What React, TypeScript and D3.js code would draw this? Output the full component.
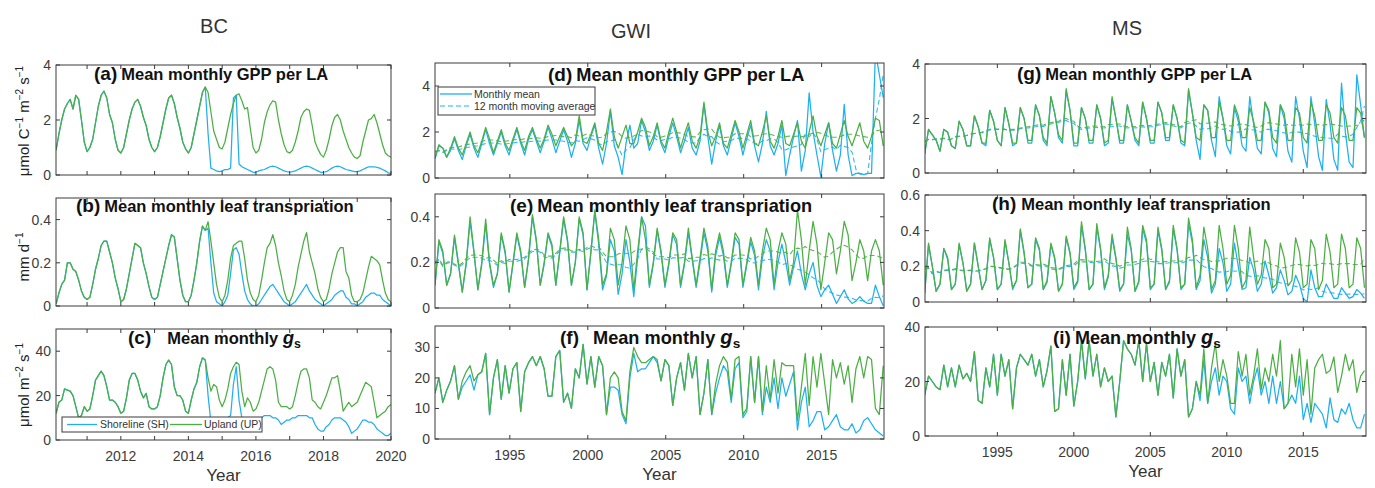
import React from 'react';
import * as d3 from 'd3';

// ---------------- DATA ----------------
// BC: monthly values, Feb 2010 .. Jan 2020 (120 months)
const bcGppUpland = [
  0.9,1.5,2.0,2.4,2.6,2.75,2.4,2.9,2.75,2.0,1.2,0.85,
  1.0,1.3,1.9,2.5,2.9,3.05,2.8,2.2,1.9,1.3,0.9,0.8,
  1.0,1.5,2.0,2.4,2.65,2.75,2.5,2.1,1.8,1.3,1.0,0.85,
  1.0,1.4,1.9,2.4,2.8,2.9,2.6,2.1,1.7,1.2,0.95,0.8,
  1.0,1.5,2.0,2.5,3.0,3.2,3.0,2.3,1.6,1.3,1.0,0.95,
  1.2,1.7,2.2,2.6,2.9,2.95,2.7,2.4,2.45,1.7,1.0,0.8,
  0.9,1.3,1.9,2.3,2.55,2.7,2.65,2.0,1.5,1.1,0.85,0.8,
  0.9,1.2,1.6,2.1,2.3,2.4,2.35,1.8,1.2,0.95,0.75,0.65,
  0.9,1.3,1.8,2.1,2.2,2.0,1.6,1.3,1.0,0.8,0.65,0.6,
  0.7,1.2,1.6,2.0,2.05,2.2,1.9,1.5,1.1,0.8,0.7,0.65];
const bcGppShore = [
  0.9,1.5,2.0,2.4,2.6,2.75,2.4,2.9,2.75,2.0,1.2,0.85,
  1.0,1.3,1.9,2.5,2.9,3.05,2.8,2.2,1.9,1.3,0.9,0.8,
  1.0,1.5,2.0,2.4,2.65,2.75,2.5,2.1,1.8,1.3,1.0,0.85,
  1.0,1.4,1.9,2.4,2.8,2.9,2.6,2.1,1.7,1.2,0.95,0.8,
  1.0,1.5,2.0,2.5,3.0,3.2,1.5,0.25,0.2,0.15,0.12,0.15,
  0.2,0.2,0.25,2.8,2.9,0.4,0.3,0.25,0.2,0.15,0.1,0.1,
  0.15,0.18,0.2,0.25,0.3,0.32,0.3,0.25,0.2,0.15,0.12,0.1,
  0.12,0.15,0.2,0.25,0.3,0.32,0.3,0.25,0.2,0.15,0.1,0.1,
  0.12,0.18,0.25,0.3,0.32,0.3,0.25,0.2,0.18,0.15,0.12,0.12,
  0.15,0.2,0.25,0.3,0.3,0.3,0.28,0.25,0.2,0.15,0.08,0.05];
const bcLeafUpland = [
  0.01,0.06,0.1,0.12,0.2,0.2,0.17,0.16,0.12,0.07,0.04,0.03,
  0.04,0.1,0.17,0.22,0.28,0.3,0.3,0.25,0.2,0.13,0.08,0.02,
  0.03,0.08,0.15,0.22,0.29,0.28,0.27,0.2,0.15,0.09,0.04,0.03,
  0.04,0.1,0.16,0.22,0.28,0.33,0.32,0.22,0.12,0.05,0.02,0.02,
  0.05,0.12,0.2,0.3,0.37,0.35,0.39,0.3,0.2,0.1,0.04,0.02,
  0.05,0.12,0.22,0.28,0.29,0.3,0.3,0.22,0.12,0.06,0.03,0.02,
  0.05,0.12,0.2,0.27,0.29,0.33,0.28,0.2,0.14,0.07,0.03,0.02,
  0.05,0.1,0.18,0.24,0.3,0.34,0.25,0.2,0.15,0.08,0.04,0.02,
  0.03,0.08,0.15,0.2,0.25,0.27,0.27,0.16,0.13,0.05,0.02,0.02,
  0.03,0.06,0.12,0.18,0.23,0.22,0.21,0.19,0.12,0.06,0.03,0.02];
const bcLeafShore = [
  0.01,0.06,0.1,0.12,0.2,0.2,0.17,0.16,0.12,0.07,0.04,0.03,
  0.04,0.1,0.17,0.22,0.28,0.3,0.3,0.25,0.2,0.13,0.08,0.02,
  0.03,0.08,0.15,0.22,0.29,0.28,0.27,0.2,0.15,0.09,0.04,0.03,
  0.04,0.1,0.16,0.22,0.28,0.33,0.32,0.22,0.12,0.05,0.02,0.02,
  0.05,0.12,0.2,0.3,0.37,0.35,0.36,0.2,0.06,0.02,0.01,0.0,
  0.02,0.05,0.15,0.26,0.27,0.24,0.15,0.07,0.03,0.01,0.0,0.0,
  0.01,0.03,0.05,0.07,0.09,0.1,0.08,0.06,0.04,0.02,0.01,0.0,
  0.01,0.02,0.04,0.06,0.08,0.1,0.07,0.05,0.03,0.02,0.01,0.0,
  0.01,0.02,0.03,0.05,0.06,0.07,0.07,0.04,0.03,0.01,0.01,0.0,
  0.01,0.02,0.04,0.05,0.06,0.06,0.05,0.05,0.03,0.02,0.01,0.0];
const bcGsUpland = [
  12,17,18,23,22.5,22,20,15,10,11,15,13,
  14,20,27,29,31,29,24,18,18,17,15,12,
  13,19,27,30,30,27,22,19,21,15,14,14,
  15,20,28,34,36,34,24,20,20,18,13,12,
  18,23,26,33,37,36,28,22,25,24,18,15,
  18,23,30,33,35,34,22,15,19,17,13,14,
  17,22,27,32,33,32,27,17,15,15,15,14,
  15,20,26,31,32,32,28,18,17,15,14,17,
  20,24,28,28,29,22,13,15,17,15,16,17,
  20,23,26,25,24,17,10,11,12,13,15,16];
const bcGsShore = [
  12,17,18,23,22.5,22,20,15,10,11,15,13,
  14,20,27,29,31,29,24,18,18,17,15,12,
  13,19,27,30,30,27,22,19,21,15,14,14,
  15,20,28,34,36,34,24,20,20,18,13,12,
  18,23,26,33,37,36,20,8,8,7,8,9,
  10,10,11,25,33,18,10,9,9,10,10,10,
  10,10,11,11,11,10,10,9,7,8,9,9,
  10,10,11,11,11,11,10,10,7,5,4,4,
  6,7,9,10,10,10,9,8,6,3,4,5,
  7,9,9,8,8,7,5,4,3,2,2,3];

// GWI: quarterly readings starting 1990.2 (116 values)
const gwiGppUpland = [
  0.85,1.45,1.3,0.9, 1.3,1.8,1.3,1.0, 1.5,2.0,1.4,1.1, 1.6,2.2,1.7,1.1, 1.6,2.1,1.5,1.2,
  1.7,2.2,1.6,1.2, 1.8,2.2,1.7,1.3, 1.7,2.3,1.9,1.4, 1.8,2.2,1.8,1.4, 1.6,2.7,1.6,1.5,
  1.9,2.4,1.5,1.2, 2.0,3.0,1.8,1.3, 1.8,2.3,1.5,1.5, 2.0,2.6,2.2,1.4, 1.8,2.4,1.6,1.3,
  2.0,2.6,2.0,1.3, 1.9,2.4,1.6,1.3, 1.8,3.3,2.0,1.4, 1.8,2.4,1.5,1.3, 1.9,2.5,2.0,1.3,
  1.9,2.5,1.5,1.4, 2.0,2.7,1.6,1.3, 1.8,2.5,1.5,1.4, 1.9,2.4,1.6,1.3, 2.0,2.7,1.8,1.4,
  1.9,2.4,1.5,1.3, 1.9,2.5,1.8,1.4, 1.9,2.4,1.6,1.3, 1.8,2.6,2.5,1.4];
const gwiGppShore = [
  0.85,1.4,1.3,0.9, 1.2,1.7,1.2,0.8, 1.4,1.9,1.3,0.9, 1.5,2.1,1.5,1.0, 1.5,2.0,1.4,1.0,
  1.6,2.1,1.5,1.0, 1.7,2.1,1.6,1.1, 1.6,2.2,1.7,1.1, 1.6,2.1,1.6,0.9, 1.5,2.5,1.5,1.2,
  1.8,2.3,1.3,0.6, 1.5,2.9,1.4,0.9, 0.15,1.5,2.3,1.3, 1.5,2.5,2.0,1.2, 1.6,2.3,1.5,1.1,
  1.8,2.4,1.8,1.1, 1.6,2.2,1.3,1.0, 1.6,3.2,1.8,0.6, 1.6,2.3,1.4,1.0, 1.7,2.4,1.8,1.0,
  1.7,2.3,1.4,0.7, 1.5,2.9,1.4,1.0, 1.5,2.3,0.1,1.0, 1.8,2.5,0.3,1.2, 3.7,2.0,1.0,0.05,
  1.5,2.4,1.2,0.3, 1.0,3.2,1.0,0.1, 0.2,0.2,0.15,0.2, 0.2,5.5,4.5,3.5];
const gwiLeafUpland = [
  0.1,0.3,0.25,0.1, 0.15,0.32,0.2,0.07, 0.2,0.4,0.25,0.08, 0.2,0.39,0.2,0.1, 0.15,0.33,0.25,0.07,
  0.2,0.33,0.25,0.09, 0.22,0.41,0.3,0.1, 0.2,0.33,0.28,0.1, 0.25,0.4,0.3,0.1, 0.2,0.4,0.33,0.08,
  0.25,0.43,0.3,0.1, 0.15,0.35,0.3,0.1, 0.2,0.36,0.3,0.08, 0.25,0.4,0.3,0.1, 0.2,0.35,0.25,0.1,
  0.2,0.33,0.3,0.1, 0.2,0.35,0.22,0.1, 0.22,0.35,0.27,0.08, 0.25,0.33,0.25,0.1, 0.2,0.33,0.3,0.1,
  0.2,0.31,0.25,0.1, 0.25,0.35,0.3,0.1, 0.25,0.33,0.28,0.12, 0.2,0.43,0.3,0.1, 0.25,0.38,0.28,0.08,
  0.2,0.33,0.3,0.15, 0.25,0.38,0.32,0.12, 0.2,0.3,0.25,0.12, 0.25,0.3,0.25,0.1];
const gwiLeafShore = [
  0.1,0.29,0.24,0.1, 0.15,0.31,0.19,0.07, 0.19,0.38,0.24,0.08, 0.19,0.37,0.19,0.09, 0.15,0.32,0.24,0.07,
  0.19,0.32,0.24,0.09, 0.21,0.4,0.29,0.1, 0.19,0.32,0.27,0.1, 0.24,0.39,0.29,0.1, 0.2,0.39,0.32,0.08,
  0.24,0.42,0.28,0.08, 0.14,0.3,0.25,0.06, 0.15,0.3,0.2,0.05, 0.22,0.4,0.36,0.09, 0.19,0.34,0.24,0.09,
  0.19,0.32,0.28,0.09, 0.19,0.33,0.21,0.09, 0.2,0.33,0.25,0.07, 0.23,0.31,0.23,0.09, 0.19,0.31,0.28,0.09,
  0.19,0.29,0.23,0.08, 0.22,0.3,0.25,0.08, 0.2,0.28,0.2,0.1, 0.18,0.25,0.15,0.08, 0.15,0.2,0.1,0.05,
  0.08,0.1,0.06,0.02, 0.05,0.08,0.04,0.02, 0.03,0.05,0.03,0.02, 0.02,0.1,0.05,0.01];
const gwiGsUpland = [
  15,20,12,16,19,24,13,19,22,24, 19,21,22,28,8,20,26,13,24,15,
  23,25,9,22,25,27,24,27,23,14, 14,27,29,12,15,10,23,20,31,18,
  27,17,27,24,8,20,22,20,9,6, 22,30,27,25,25,26,27,26,19,26,
  24,11,20,25,16,28,20,27,8,15, 26,8,18,24,27,25,13,26,27,8,
  10,27,12,27,9,24,13,26,15,25, 24,24,24,6,17,28,11,27,17,28,
  18,8,26,20,25,18,24,12,23,27, 20,27,26,10,8,24];
const gwiGsShore = [
  15,20,12,16,19,24,13,17,19,21, 16,21,22,28,8,20,26,13,24,15,
  23,25,9,22,25,27,24,27,23,14, 14,27,29,12,15,10,23,20,31,18,
  27,17,27,24,8,17,17,16,8,5, 20,28,22,23,23,25,27,25,19,26,
  24,11,20,25,16,28,20,27,8,15, 26,8,15,20,24,22,12,23,25,7,
  9,27,12,27,8,17,12,20,10,20, 14,18,22,3,12,17,4,6,9,9,
  3,4,6,8,4,3,3,5,2,3, 6,7,5,3,2,1];

// MS: quarterly readings starting 1990.25 (116 values)
const msGppUpland = [
  0.7,1.6,1.4,1.2, 0.8,1.6,1.5,1.0, 0.9,1.9,1.6,1.0, 1.0,2.1,1.7,1.1, 1.1,2.3,1.9,1.2,
  1.0,2.4,1.8,1.1, 1.1,2.4,2.0,1.2, 1.2,2.5,2.1,1.3, 1.1,2.8,2.2,1.4, 1.2,3.1,2.3,1.1,
  1.1,2.4,2.0,1.2, 1.2,2.5,2.0,1.1, 1.2,2.8,2.0,1.2, 1.2,2.5,1.9,1.3, 1.1,2.6,2.0,1.2,
  1.2,2.6,2.2,1.3, 1.3,2.5,2.0,1.2, 1.1,3.1,2.2,1.3, 1.2,2.5,2.3,1.3, 1.3,2.6,2.0,1.2,
  1.2,2.5,2.1,1.3, 1.3,2.4,1.9,1.2, 1.2,2.6,2.3,1.3, 1.1,2.5,2.2,1.2, 1.2,2.4,2.2,1.3,
  1.1,2.6,2.1,1.2, 1.2,2.5,2.2,1.3, 1.1,2.4,2.1,1.2, 1.2,2.4,2.2,1.3];
const msGppShore = [
  0.7,1.6,1.4,1.2, 0.8,1.6,1.5,1.0, 0.9,1.9,1.6,1.0, 1.0,2.1,1.7,1.1, 1.0,2.3,1.9,1.2,
  1.0,2.4,1.8,1.0, 1.1,2.4,2.0,1.1, 1.1,2.5,2.1,1.2, 1.0,2.8,2.2,1.3, 1.1,3.0,2.3,1.0,
  1.0,2.4,2.0,1.1, 1.1,2.5,2.0,1.0, 1.1,2.7,2.0,1.1, 1.1,2.5,1.9,1.2, 1.0,2.6,2.0,1.1,
  1.1,2.6,2.2,1.2, 1.2,2.5,2.0,1.1, 1.0,3.0,2.2,1.2, 0.5,2.5,2.3,1.2, 0.6,2.8,2.0,1.0,
  0.7,2.4,1.9,1.0, 0.8,2.8,1.8,0.9, 0.7,2.6,2.2,0.9, 0.6,2.5,2.0,0.8, 0.4,2.8,2.0,0.8,
  0.2,2.8,1.8,0.6, 0.1,2.7,1.8,0.5, 0.1,3.3,1.5,0.4, 0.2,3.6,2.5,1.3];
const msLeafUpland = [
  0.05,0.33,0.2,0.06, 0.1,0.3,0.25,0.07, 0.1,0.33,0.22,0.06, 0.1,0.33,0.2,0.07, 0.12,0.36,0.25,0.07,
  0.1,0.35,0.22,0.08, 0.12,0.41,0.28,0.08, 0.1,0.36,0.3,0.07, 0.12,0.33,0.25,0.06, 0.1,0.37,0.28,0.08,
  0.12,0.45,0.3,0.07, 0.1,0.44,0.3,0.08, 0.15,0.38,0.25,0.07, 0.1,0.42,0.3,0.06, 0.12,0.43,0.35,0.08,
  0.1,0.42,0.3,0.07, 0.12,0.43,0.3,0.08, 0.1,0.47,0.35,0.08, 0.15,0.42,0.3,0.07, 0.12,0.43,0.3,0.1,
  0.15,0.43,0.3,0.08, 0.12,0.42,0.25,0.1, 0.15,0.35,0.3,0.08, 0.1,0.33,0.25,0.09, 0.12,0.36,0.28,0.08,
  0.1,0.35,0.3,0.07, 0.12,0.38,0.28,0.08, 0.1,0.38,0.3,0.08, 0.1,0.36,0.3,0.08];
const msLeafShore = [
  0.05,0.32,0.2,0.06, 0.1,0.3,0.24,0.07, 0.1,0.32,0.22,0.06, 0.1,0.33,0.2,0.07, 0.12,0.35,0.25,0.07,
  0.1,0.34,0.22,0.07, 0.12,0.4,0.27,0.08, 0.1,0.35,0.29,0.07, 0.11,0.32,0.24,0.06, 0.1,0.36,0.27,0.07,
  0.11,0.43,0.29,0.07, 0.1,0.42,0.29,0.07, 0.14,0.36,0.24,0.06, 0.1,0.38,0.29,0.06, 0.11,0.41,0.33,0.07,
  0.1,0.4,0.29,0.07, 0.11,0.41,0.29,0.07, 0.1,0.44,0.33,0.07, 0.12,0.35,0.25,0.05, 0.1,0.3,0.22,0.06,
  0.1,0.33,0.2,0.07, 0.08,0.25,0.18,0.06, 0.1,0.23,0.15,0.05, 0.08,0.18,0.12,0.04, 0.06,0.15,0.1,0.02,
  0.0,0.18,0.08,0.03, 0.03,0.1,0.06,0.02, 0.02,0.08,0.05,0.02, 0.03,0.07,0.05,0.02];
const msGsUpland = [
  15,22,20,18, 17,26,18,25, 18,26,21,23, 20,31,13,12, 25,18,30,15,
  30,22,28,10, 25,30,28,26, 30,22,28,18, 24,33,9,10, 28,15,30,11,
  20,35,21,35, 22,30,18,25, 20,22,7,20, 35,32,30,26, 35,20,34,20,
  27,15,27,22, 30,14,32,22, 28,7,10,20, 15,32,12,25, 34,20,28,22,
  12,12,31,22, 30,15,22,32, 17,25,20,30, 22,35,10,12, 30,18,32,15,
  28,8,25,28, 30,23,24,29, 16,22,30,24, 28,16,22,24];
const msGsShore = [
  15,22,20,18, 17,26,18,25, 18,26,21,23, 20,31,13,12, 25,18,30,15,
  30,22,28,10, 25,30,28,26, 30,22,28,18, 24,33,9,10, 28,15,30,11,
  20,35,21,35, 22,30,18,25, 20,22,7,20, 35,32,30,26, 35,20,34,20,
  27,15,27,22, 30,14,32,22, 28,7,10,20, 13,28,12,20, 25,15,22,20,
  10,8,25,20, 22,12,20,25, 15,20,12,22, 12,20,10,12, 15,12,22,6,
  12,5,12,10, 8,3,14,6, 5,10,8,12, 6,3,3,8];

const bcYearTicks = [2011, 2012, 2013, 2014, 2015, 2016, 2017, 2018, 2019, 2020];
const bcYearLabels = [2012, 2014, 2016, 2018, 2020];
const longYearTicks = [1995, 2000, 2005, 2010, 2015];

// ---------------- STYLE ----------------
const BLUE = '#1fb0ef';
const GREEN = '#4caf44';
const AXIS = '#3a3a3a';
const TICKTXT = '#3c3c3c';
const FONT = '"Liberation Sans", Arial, Helvetica, sans-serif';

const bcTime = bcGppUpland.map((_, i) => 2010 + (i + 1) / 12);
const gwiTime = gwiGppUpland.map((_, i) => 1990.2 + i / 4);
const msTime = msGppUpland.map((_, i) => 1990.25 + i / 4);

function movmean(v: number[], k = 4): number[] {
  return v.map((_, i) => {
    const a = Math.max(0, i - k / 2);
    const b = Math.min(v.length - 1, i + k / 2 - 1);
    let s = 0;
    for (let j = a; j <= b; j++) s += v[j];
    return s / (b - a + 1);
  });
}

type Series = { t: number[]; v: number[]; color: string; dash?: string };
type Col = { x0: number; x1: number; dom: [number, number]; ticks: number[]; labels: number[] };
type PanelDef = {
  id: string; col: Col; y0: number; y1: number; yDom: [number, number]; yTicks: number[];
  series: Series[]; label: string; kind: 'gpp' | 'leaf' | 'gs'; tx: number; ty: number; gap: number; tsize: number;
  showX: boolean;
};

const BCcol: Col = { x0: 56, x1: 391, dom: [2010.08, 2020], ticks: bcYearTicks, labels: bcYearLabels };
const GWIcol: Col = { x0: 435, x1: 884, dom: [1990.2, 2019.0], ticks: longYearTicks, labels: longYearTicks };
const MScol: Col = { x0: 925, x1: 1366, dom: [1990.27, 2019.1], ticks: longYearTicks, labels: longYearTicks };

function pair(t: number[], sh: number[], up: number[], ma: boolean): Series[] {
  const s: Series[] = [];
  if (ma) {
    s.push({ t, v: movmean(sh), color: BLUE, dash: '5,3' });
    s.push({ t, v: movmean(up), color: GREEN, dash: '5,3' });
  }
  s.push({ t, v: sh, color: BLUE });
  s.push({ t, v: up, color: GREEN });
  return s;
}

const panels: PanelDef[] = [
  { id: 'a', col: BCcol, y0: 65, y1: 175, yDom: [0, 4], yTicks: [0, 2, 4], series: pair(bcTime, bcGppShore, bcGppUpland, false), label: '(a)', kind: 'gpp', tx: 94, ty: 80, gap: 4, tsize: 16.5, showX: false },
  { id: 'b', col: BCcol, y0: 198, y1: 306, yDom: [0, 0.5], yTicks: [0, 0.2, 0.4], series: pair(bcTime, bcLeafShore, bcLeafUpland, false), label: '(b)', kind: 'leaf', tx: 76, ty: 212, gap: 4, tsize: 16.5, showX: false },
  { id: 'c', col: BCcol, y0: 329, y1: 440, yDom: [0, 50], yTicks: [0, 20, 40], series: pair(bcTime, bcGsShore, bcGsUpland, false), label: '(c)', kind: 'gs', tx: 128, ty: 344, gap: 16, tsize: 16.5, showX: true },
  { id: 'd', col: GWIcol, y0: 63, y1: 178, yDom: [0, 5], yTicks: [0, 2, 4], series: pair(gwiTime, gwiGppShore, gwiGppUpland, true), label: '(d)', kind: 'gpp', tx: 548, ty: 81, gap: 4, tsize: 18.2, showX: false },
  { id: 'e', col: GWIcol, y0: 194, y1: 308, yDom: [0, 0.5], yTicks: [0, 0.2, 0.4], series: pair(gwiTime, gwiLeafShore, gwiLeafUpland, true), label: '(e)', kind: 'leaf', tx: 510, ty: 212, gap: 4, tsize: 18.2, showX: false },
  { id: 'f', col: GWIcol, y0: 326, y1: 439, yDom: [0, 37], yTicks: [0, 10, 20, 30], series: pair(gwiTime, gwiGsShore, gwiGsUpland, false), label: '(f)', kind: 'gs', tx: 560, ty: 344, gap: 14, tsize: 18.2, showX: true },
  { id: 'g', col: MScol, y0: 64, y1: 173, yDom: [0, 4], yTicks: [0, 2, 4], series: pair(msTime, msGppShore, msGppUpland, true), label: '(g)', kind: 'gpp', tx: 1017, ty: 80, gap: 4, tsize: 16.5, showX: false },
  { id: 'h', col: MScol, y0: 195, y1: 302, yDom: [0, 0.6], yTicks: [0, 0.2, 0.4, 0.6], series: pair(msTime, msLeafShore, msLeafUpland, true), label: '(h)', kind: 'leaf', tx: 992, ty: 210, gap: 5, tsize: 16.5, showX: false },
  { id: 'i', col: MScol, y0: 327, y1: 436, yDom: [0, 40], yTicks: [0, 20, 40], series: pair(msTime, msGsShore, msGsUpland, false), label: '(i)', kind: 'gs', tx: 1053, ty: 344, gap: 4, tsize: 18, showX: true },
];

function Title({ p }: { p: PanelDef }) {
  const main = p.kind === 'gpp' ? 'Mean monthly GPP per LA' : p.kind === 'leaf' ? 'Mean monthly leaf transpriation' : 'Mean monthly ';
  return (
    <text x={p.tx} y={p.ty} fontFamily={FONT} fontWeight="bold" fill="#111">
      <tspan fontSize={19}>{p.label}</tspan>
      <tspan fontSize={p.tsize} dx={p.gap}>{main}</tspan>
      {p.kind === 'gs' && <tspan fontSize={p.tsize + 2} fontStyle="italic">g</tspan>}
      {p.kind === 'gs' && <tspan fontSize={p.tsize * 0.75} dy={4}>s</tspan>}
    </text>
  );
}

function Panel({ p }: { p: PanelDef }) {
  const { x0, x1 } = p.col;
  const x = d3.scaleLinear().domain(p.col.dom).range([x0, x1]);
  const y = d3.scaleLinear().domain(p.yDom).range([p.y1, p.y0]);
  const mk = (s: Series) =>
    d3.line<[number, number]>().x(d => x(d[0])).y(d => y(d[1]))(s.t.map((t, i) => [t, s.v[i]] as [number, number])) || '';
  const tl = 4;
  const fmt = (v: number) => String(v);
  return (
    <g>
      <defs>
        <clipPath id={'clip-' + p.id}>
          <rect x={x0} y={p.y0} width={x1 - x0} height={p.y1 - p.y0} />
        </clipPath>
      </defs>
      <rect x={x0} y={p.y0} width={x1 - x0} height={p.y1 - p.y0} fill="#fff" />
      <g clipPath={`url(#clip-${p.id})`}>
        {p.series.map((s, k) => (
          <path key={k} d={mk(s)} fill="none" stroke={s.color} strokeWidth={s.dash ? 1.1 : 1.25}
            strokeDasharray={s.dash} strokeLinejoin="round" opacity={s.dash ? 0.9 : 1} />
        ))}
      </g>
      <Title p={p} />
      <rect x={x0} y={p.y0} width={x1 - x0} height={p.y1 - p.y0} fill="none" stroke={AXIS} strokeWidth={1} />
      {p.yTicks.map(v => (
        <g key={'y' + v}>
          <line x1={x0} x2={x0 + tl} y1={y(v)} y2={y(v)} stroke={AXIS} />
          <line x1={x1} x2={x1 - tl} y1={y(v)} y2={y(v)} stroke={AXIS} />
          <text x={x0 - 5} y={y(v) + 5} textAnchor="end" fontFamily={FONT} fontSize={14} fill={TICKTXT}>{fmt(v)}</text>
        </g>
      ))}
      {p.col.ticks.map(v => (
        <g key={'x' + v}>
          <line x1={x(v)} x2={x(v)} y1={p.y1} y2={p.y1 - tl} stroke={AXIS} />
          <line x1={x(v)} x2={x(v)} y1={p.y0} y2={p.y0 + tl} stroke={AXIS} />
        </g>
      ))}
      {p.showX && p.col.labels.map(v => (
        <text key={'xl' + v} x={x(v)} y={p.y1 + 21} textAnchor="middle" fontFamily={FONT} fontSize={14} fill={TICKTXT}>{v}</text>
      ))}
      {p.showX && (
        <text x={(x0 + x1) / 2} y={p.y1 + 41} textAnchor="middle" fontFamily={FONT} fontSize={17} fill="#333">Year</text>
      )}
    </g>
  );
}

function YTitle({ cx, cy, parts }: { cx: number; cy: number; parts: [string, boolean][] }) {
  return (
    <text transform={`translate(${cx},${cy}) rotate(-90)`} textAnchor="middle" fontFamily={FONT} fontSize={15} fill="#222">
      {parts.map(([s, sup], i) => {
        const prevSup = i > 0 && parts[i - 1][1];
        const dy = sup ? -6 : prevSup ? 6 : 0;
        return <tspan key={i} dy={dy} fontSize={sup ? 10 : 15}>{s}</tspan>;
      })}
    </text>
  );
}

export default function App() {
  const pc = panels[2];
  const pd = panels[3];
  return (
    <svg width={1375} height={488} style={{ position: 'absolute', left: 0, top: 0, background: '#fff' }}>
      <rect width={1375} height={488} fill="#fff" />
      <text x={214} y={33} textAnchor="middle" fontFamily={FONT} fontSize={20} fill="#333">BC</text>
      <text x={631} y={38} textAnchor="middle" fontFamily={FONT} fontSize={20} fill="#333">GWI</text>
      <text x={1127} y={35} textAnchor="middle" fontFamily={FONT} fontSize={20} fill="#333">MS</text>

      {panels.map(p => <Panel key={p.id} p={p} />)}

      <YTitle cx={29} cy={121} parts={[['μmol C', false], ['−1', true], [' m', false], ['−2', true], [' s', false], ['−1', true]]} />
      <YTitle cx={29} cy={257} parts={[['mm d', false], ['−1', true]]} />
      <YTitle cx={29} cy={385} parts={[['μmol m', false], ['−2', true], [' s', false], ['−1', true]]} />

      {/* BC legend */}
      <g>
        <rect x={pc.col.x0 + 6} y={pc.y1 - 23} width={200} height={15} fill="#fff" stroke={AXIS} />
        <line x1={pc.col.x0 + 11} x2={pc.col.x0 + 41} y1={pc.y1 - 15.5} y2={pc.y1 - 15.5} stroke={BLUE} strokeWidth={1.3} />
        <text x={pc.col.x0 + 44} y={pc.y1 - 12} fontFamily={FONT} fontSize={10.5} fill="#333">Shoreline (SH)</text>
        <line x1={pc.col.x0 + 114} x2={pc.col.x0 + 146} y1={pc.y1 - 15.5} y2={pc.y1 - 15.5} stroke={GREEN} strokeWidth={1.3} />
        <text x={pc.col.x0 + 148} y={pc.y1 - 12} fontFamily={FONT} fontSize={10.5} fill="#333">Upland (UP)</text>
      </g>
      {/* GWI legend */}
      <g>
        <rect x={pd.col.x0 + 3} y={pd.y0 + 24} width={157} height={28} fill="#fff" stroke={AXIS} />
        <line x1={pd.col.x0 + 5} x2={pd.col.x0 + 37} y1={pd.y0 + 31} y2={pd.y0 + 31} stroke={BLUE} strokeWidth={1.3} />
        <text x={pd.col.x0 + 39} y={pd.y0 + 35} fontFamily={FONT} fontSize={10.5} fill="#333">Monthly mean</text>
        <line x1={pd.col.x0 + 5} x2={pd.col.x0 + 37} y1={pd.y0 + 43} y2={pd.y0 + 43} stroke={BLUE} strokeWidth={1.1} strokeDasharray="5,3" />
        <text x={pd.col.x0 + 39} y={pd.y0 + 47} fontFamily={FONT} fontSize={10.5} fill="#333">12 month moving average</text>
      </g>
    </svg>
  );
}
